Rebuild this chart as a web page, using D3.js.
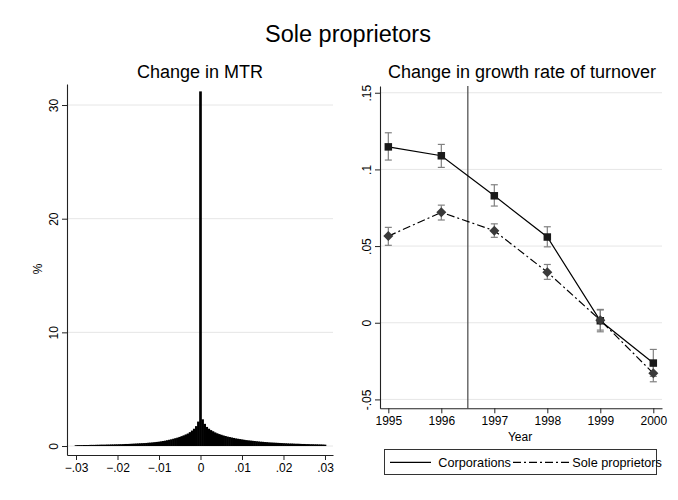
<!DOCTYPE html>
<html>
<head>
<meta charset="utf-8">
<script src="https://cdn.jsdelivr.net/npm/d3@7"></script>
<style>
  html, body { margin: 0; padding: 0; background: #fff; }
  svg { display: block; font-family: "Liberation Sans", Arial, sans-serif; }
</style>
</head>
<body>
<script>
// ---------------- DATA ----------------
// Left panel: histogram of change in MTR (% of observations), bins of 0.0005 from -0.03 to 0.03
const mtrBinStart = -0.03;
const mtrBinWidth = 0.0005;
const mtrPercent = [
  0.07,0.08,0.08,0.08,0.09,0.09,0.09,0.10,0.10,0.10,
  0.11,0.11,0.12,0.12,0.12,0.13,0.13,0.14,0.14,0.15,
  0.15,0.16,0.16,0.17,0.18,0.18,0.19,0.20,0.21,0.22,
  0.23,0.24,0.25,0.26,0.27,0.29,0.30,0.32,0.34,0.36,
  0.38,0.41,0.44,0.47,0.51,0.55,0.59,0.64,0.69,0.74,
  0.80,0.87,0.94,1.02,1.10,1.22,1.36,1.52,1.75,2.15,
  31.2,
  2.35,1.95,1.68,1.52,1.40,1.30,1.20,1.12,1.05,0.99,
  0.93,0.88,0.83,0.79,0.75,0.71,0.67,0.64,0.61,0.58,
  0.55,0.52,0.50,0.48,0.46,0.44,0.42,0.40,0.38,0.37,
  0.35,0.34,0.32,0.31,0.30,0.29,0.28,0.27,0.26,0.25,
  0.24,0.23,0.22,0.22,0.21,0.20,0.20,0.19,0.18,0.18,
  0.17,0.17,0.16,0.16,0.15,0.15,0.14,0.14,0.13,0.12
];
const mtrXTicks = [-0.03, -0.02, -0.01, 0, 0.01, 0.02, 0.03];
const mtrYTicks = [0, 10, 20, 30];

// Right panel: change in growth rate of turnover
const years = [1995, 1996, 1997, 1998, 1999, 2000];
const corpValue = [0.1147, 0.1089, 0.0828, 0.0559, 0.0013, -0.0263];
const corpLow   = [0.1061, 0.1013, 0.0761, 0.0495, -0.0059, -0.0350];
const corpHigh  = [0.1239, 0.1163, 0.0900, 0.0626, 0.0087, -0.0174];
const soleValue = [0.0565, 0.0720, 0.0600, 0.0330, 0.0017, -0.0330];
const soleLow   = [0.0505, 0.0670, 0.0557, 0.0283, -0.0048, -0.0385];
const soleHigh  = [0.0622, 0.0767, 0.0645, 0.0380, 0.0083, -0.0275];
const reformYear = 1996.5;
const growthYTicks = [-0.05, 0, 0.05, 0.1, 0.15];
const seriesNames = ["Corporations", "Sole proprietors"];

// ---------------- DRAW ----------------
const svg = d3.select("body").append("svg").attr("width", 678).attr("height", 500);
svg.append("rect").attr("width", 678).attr("height", 500).attr("fill", "#fff");

const axisColor = "#222";
const gridColor = "#e6e6e6";
const fmtDec = d => d === 0 ? "0" : String(d).replace("0.", ".");

svg.append("text").attr("x", 348).attr("y", 41.5).attr("text-anchor", "middle")
  .attr("font-size", 23.5).attr("fill", "#000").text("Sole proprietors");

// ---- Left panel ----
const xL = d3.scaleLinear().domain([-0.03217, 0.03193]).range([67, 333]);
const yL = d3.scaleLinear().domain([-0.79, 31.85]).range([455, 84]);

const gL = svg.append("g");
gL.selectAll("line.grid").data(mtrYTicks).join("line")
  .attr("x1", 67).attr("x2", 333).attr("y1", d => yL(d)).attr("y2", d => yL(d))
  .attr("stroke", gridColor).attr("stroke-width", 1);

const bins = mtrPercent.map((v, i) => ({ c: mtrBinStart + i * mtrBinWidth, v }));
gL.selectAll("rect.bar").data(bins).join("rect")
  .attr("x", d => xL(d.c - mtrBinWidth / 2) - 0.3)
  .attr("width", d => xL(d.c + mtrBinWidth / 2) - xL(d.c - mtrBinWidth / 2) + 0.6)
  .attr("y", d => yL(d.v))
  .attr("height", d => yL(0) - yL(d.v))
  .attr("fill", "#000");

const axLy = gL.append("g").attr("transform", "translate(67,0)")
  .call(d3.axisLeft(yL).tickValues(mtrYTicks).tickSize(5).tickSizeOuter(0).tickFormat(d3.format("d")));
const axLx = gL.append("g").attr("transform", "translate(0,455)")
  .call(d3.axisBottom(xL).tickValues(mtrXTicks).tickSize(5).tickSizeOuter(0).tickFormat(d => d === 0 ? "0" : d3.format(".2f")(d).replace("0.", ".")));

gL.append("text").attr("x", 200).attr("y", 78).attr("text-anchor", "middle")
  .attr("font-size", 18).attr("fill", "#000").text("Change in MTR");
gL.append("text").attr("transform", "translate(42,269) rotate(-90)").attr("text-anchor", "middle")
  .attr("font-size", 12).attr("fill", "#000").text("%");

// ---- Right panel ----
const xR = d3.scaleLinear().domain([1994.843, 2000.164]).range([380, 662]);
const yR = d3.scaleLinear().domain([-0.0558, 0.1544]).range([408.3, 86]);

const gR = svg.append("g");
gR.selectAll("line.grid").data(growthYTicks).join("line")
  .attr("x1", 380).attr("x2", 662).attr("y1", d => yR(d)).attr("y2", d => yR(d))
  .attr("stroke", gridColor).attr("stroke-width", 1);

gR.append("line").attr("x1", xR(reformYear)).attr("x2", xR(reformYear))
  .attr("y1", yR.range()[1]).attr("y2", yR.range()[0])
  .attr("stroke", "#555").attr("stroke-width", 1.3);

function errorBars(lo, hi) {
  const g = gR.append("g").attr("stroke", "#808080").attr("stroke-width", 1.2).attr("fill", "none");
  years.forEach((yr, i) => {
    const x = xR(yr);
    g.append("line").attr("x1", x).attr("x2", x).attr("y1", yR(lo[i])).attr("y2", yR(hi[i]));
    g.append("line").attr("x1", x - 3.5).attr("x2", x + 3.5).attr("y1", yR(lo[i])).attr("y2", yR(lo[i]));
    g.append("line").attr("x1", x - 3.5).attr("x2", x + 3.5).attr("y1", yR(hi[i])).attr("y2", yR(hi[i]));
  });
}
errorBars(corpLow, corpHigh);
errorBars(soleLow, soleHigh);

const line = d3.line().x((d, i) => xR(years[i])).y(d => yR(d));
gR.append("path").datum(corpValue).attr("d", line).attr("fill", "none")
  .attr("stroke", "#000").attr("stroke-width", 1.2);
gR.append("path").datum(soleValue).attr("d", line).attr("fill", "none")
  .attr("stroke", "#000").attr("stroke-width", 1.2).attr("stroke-dasharray", "8,3,2,3");

gR.selectAll("rect.sq").data(corpValue).join("rect")
  .attr("x", (d, i) => xR(years[i]) - 3.75).attr("y", d => yR(d) - 3.75)
  .attr("width", 7.5).attr("height", 7.5).attr("fill", "#1a1a1a");
gR.selectAll("path.dm").data(soleValue).join("path")
  .attr("d", (d, i) => { const x = xR(years[i]), y = yR(d), r = 5; return `M${x},${y-r}L${x+r},${y}L${x},${y+r}L${x-r},${y}Z`; })
  .attr("fill", "#3a3a3a");

const axRy = gR.append("g").attr("transform", "translate(380,0)")
  .call(d3.axisLeft(yR).tickValues(growthYTicks).tickSize(5).tickSizeOuter(0).tickFormat(fmtDec));
const axRx = gR.append("g").attr("transform", "translate(0,408.3)")
  .call(d3.axisBottom(xR).tickValues(years).tickSize(5).tickSizeOuter(0).tickFormat(d3.format("d")));

gR.append("text").attr("x", 522).attr("y", 78).attr("text-anchor", "middle")
  .attr("font-size", 18).attr("fill", "#000").text("Change in growth rate of turnover");
gR.append("text").attr("x", 520).attr("y", 440.7).attr("text-anchor", "middle")
  .attr("font-size", 12).attr("fill", "#000").text("Year");

// axis styling
[axLy, axLx, axRy, axRx].forEach(a => {
  a.selectAll("path.domain").attr("stroke", axisColor).attr("stroke-width", 1.1);
  a.selectAll(".tick line").attr("stroke", axisColor);
  a.selectAll(".tick text").attr("font-size", 12).attr("fill", "#000")
    .attr("font-family", "Liberation Sans, Arial, sans-serif");
  a.attr("font-family", null);
});
[axLy, axRy].forEach(a => {
  a.selectAll(".tick text").attr("x", null).attr("dy", null).attr("text-anchor", "middle")
    .attr("transform", "translate(-9.5,0) rotate(-90)");
});

// ---- Legend ----
const lg = svg.append("g");
lg.append("rect").attr("x", 384.5).attr("y", 449.5).attr("width", 272).attr("height", 25)
  .attr("fill", "#fff").attr("stroke", "#333").attr("stroke-width", 1);
lg.append("line").attr("x1", 390).attr("x2", 431).attr("y1", 462.3).attr("y2", 462.3)
  .attr("stroke", "#000").attr("stroke-width", 1.2);
lg.append("text").attr("x", 438.3).attr("y", 467).attr("font-size", 12.7).attr("fill", "#000").text(seriesNames[0]);
lg.append("line").attr("x1", 513).attr("x2", 569).attr("y1", 462.3).attr("y2", 462.3)
  .attr("stroke", "#000").attr("stroke-width", 1.2).attr("stroke-dasharray", "8,3,2,3");
lg.append("text").attr("x", 572.3).attr("y", 467).attr("font-size", 12.7).attr("fill", "#000").text(seriesNames[1]);
</script>
</body>
</html>
